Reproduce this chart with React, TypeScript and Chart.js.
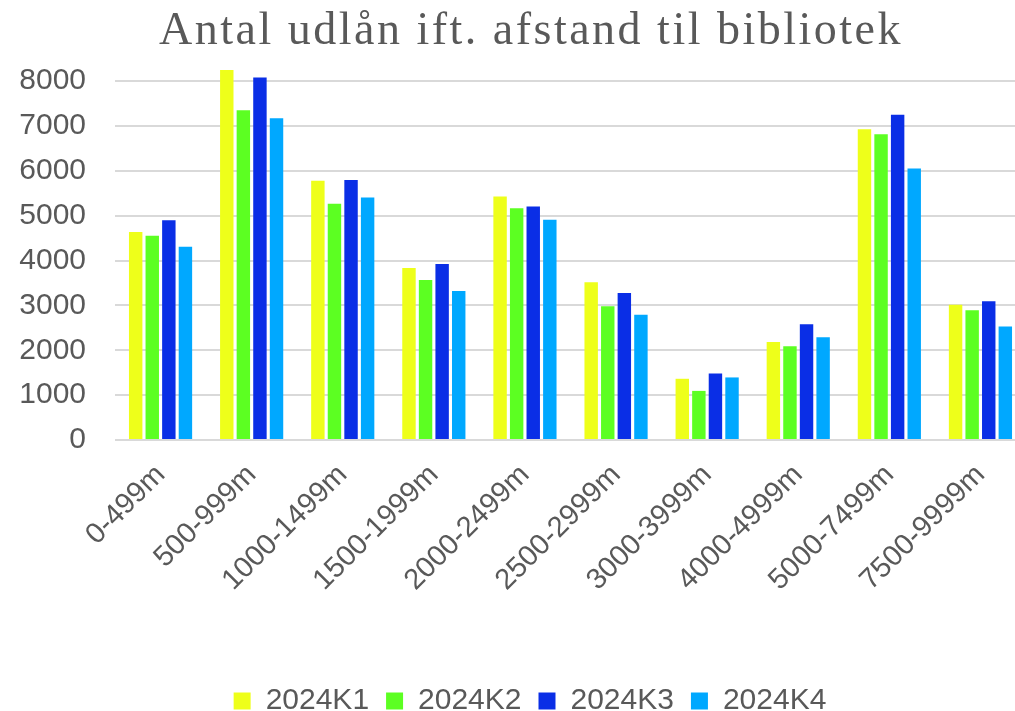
import React, { useEffect, useRef } from "react";
import { Chart, registerables } from "chart.js";

Chart.register(...registerables);

const titleText = "Antal udlån ift. afstand til bibliotek";

const categories = [
  "0-499m",
  "500-999m",
  "1000-1499m",
  "1500-1999m",
  "2000-2499m",
  "2500-2999m",
  "3000-3999m",
  "4000-4999m",
  "5000-7499m",
  "7500-9999m",
];

const seriesNames = ["2024K1", "2024K2", "2024K3", "2024K4"];
const k1 = [4640, 8250, 5780, 3835, 5430, 3520, 1365, 2185, 6930, 3015];
const k2 = [4555, 7355, 5265, 3565, 5170, 2985, 1095, 2090, 6815, 2895];
const k3 = [4900, 8085, 5795, 3925, 5205, 3275, 1485, 2580, 7250, 3095];
const k4 = [4310, 7175, 5405, 3325, 4910, 2790, 1395, 2290, 6055, 2530];
const colors = ["#EEFF1A", "#5CFF22", "#0A2EE6", "#00A8FF"];
const yTicks = [0, 1000, 2000, 3000, 4000, 5000, 6000, 7000, 8000];

const TEXT = "#595959";
const CANVAS_W = 1026;
const CANVAS_H = 726;

const titlePlugin = {
  id: "customTitle",
  afterDraw(chart: any) {
    const ctx = chart.ctx as CanvasRenderingContext2D;
    ctx.save();
    ctx.font = "46px 'Liberation Serif'";
    (ctx as any).letterSpacing = "2.5px";
    ctx.fillStyle = TEXT;
    ctx.textAlign = "center";
    ctx.textBaseline = "alphabetic";
    ctx.fillText(titleText, 531, 44);
    ctx.restore();
  },
};

const legendShiftPlugin = {
  id: "legendShift",
  afterLayout(chart: any) {
    if (chart.legend) {
      chart.legend.left += 17;
      chart.legend.right += 17;
    }
  },
};

export default function App() {
  const ref = useRef<HTMLCanvasElement | null>(null);
  useEffect(() => {
    if (!ref.current) return;
    const values = [k1, k2, k3, k4];
    const chart = new Chart(ref.current, {
      type: "bar",
      data: {
        labels: categories,
        datasets: seriesNames.map((name, i) => ({
          label: name,
          data: values[i],
          backgroundColor: colors[i],
          borderWidth: 0,
          categoryPercentage: 0.728,
          barPercentage: 0.81,
        })),
      },
      plugins: [titlePlugin, legendShiftPlugin],
      options: {
        animation: false,
        responsive: false,
        layout: { padding: { left: 0, right: 0, top: 70, bottom: 0 } },
        plugins: {
          title: { display: false },
          legend: {
            position: "bottom",
            labels: {
              color: TEXT,
              font: { family: "'Liberation Sans'", size: 30 },
              boxWidth: 17,
              boxHeight: 17,
              padding: 17,
            },
          },
          tooltip: { enabled: false },
        },
        scales: {
          x: {
            afterFit: (axis: any) => {
              axis.height = 229;
            },
            grid: { display: false, drawTicks: false },
            border: { display: false },
            ticks: {
              color: TEXT,
              font: { family: "'Liberation Sans'", size: 29 },
              maxRotation: 45,
              minRotation: 45,
              padding: 18,
            },
          },
          y: {
            min: 0,
            max: 8250,
            afterFit: (axis: any) => {
              axis.width = 115;
            },
            afterBuildTicks: (axis: any) => {
              axis.ticks = yTicks.map((v) => ({ value: v }));
            },
            grid: { color: "#D9D9D9", lineWidth: 2, drawTicks: false },
            border: { display: false },
            ticks: {
              color: TEXT,
              font: { family: "'Liberation Sans'", size: 30 },
              padding: 29,
              callback: (v: any) => String(v),
            },
          },
        },
      },
    });
    return () => chart.destroy();
  }, []);
  return (
    <div
      style={{
        position: "fixed",
        left: 0,
        top: 0,
        width: 1015,
        height: 711,
        overflow: "hidden",
        background: "#fff",
      }}
    >
      <canvas ref={ref} width={CANVAS_W} height={CANVAS_H} style={{ display: "block" }} />
    </div>
  );
}
